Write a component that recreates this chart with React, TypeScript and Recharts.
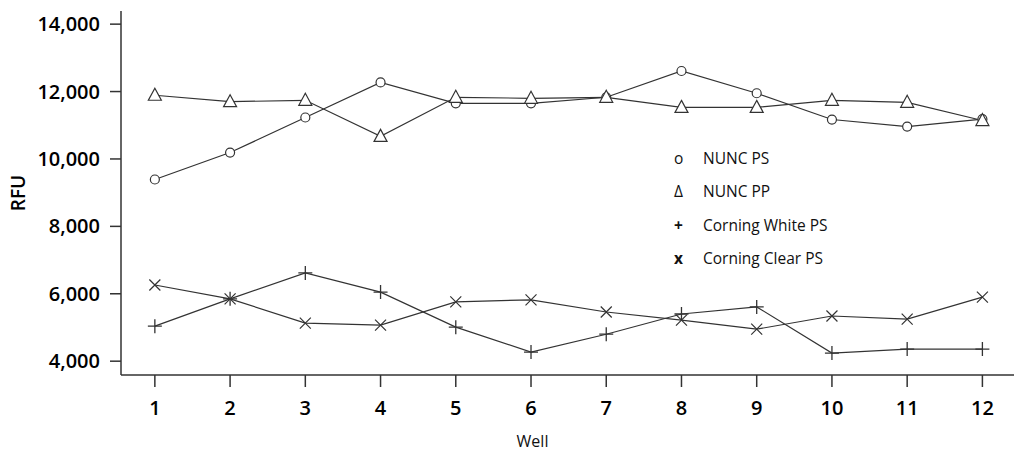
import React from 'react';
import { LineChart, Line, XAxis, YAxis, Legend } from 'recharts';

const wells = [1, 2, 3, 4, 5, 6, 7, 8, 9, 10, 11, 12];
const nuncPS = [9390, 10190, 11230, 12270, 11650, 11650, 11830, 12610, 11950, 11170, 10960, 11180];
const nuncPP = [11890, 11700, 11740, 10670, 11830, 11800, 11830, 11530, 11530, 11740, 11680, 11140];
const corningWhitePS = [5040, 5850, 6620, 6050, 5010, 4270, 4800, 5400, 5610, 4240, 4360, 4360];
const corningClearPS = [6260, 5850, 5130, 5070, 5760, 5820, 5460, 5220, 4950, 5340, 5250, 5900];
const yTicks = [4000, 6000, 8000, 10000, 12000, 14000];

const chartData = wells.map((well, i) => ({
  well,
  nuncPS: nuncPS[i],
  nuncPP: nuncPP[i],
  corningWhitePS: corningWhitePS[i],
  corningClearPS: corningClearPS[i],
}));

const INK = '#333';
const FONT = '"Open Sans", Lato, sans-serif';

const CircleDot = (props: any) => {
  const { cx, cy } = props;
  if (cx == null || cy == null) return null;
  return <circle cx={cx} cy={cy} r={4.5} fill="#fff" stroke={INK} strokeWidth={1.2} />;
};

const TriangleDot = (props: any) => {
  const { cx, cy } = props;
  if (cx == null || cy == null) return null;
  const d = `M${cx},${cy - 7} L${cx + 6.5},${cy + 5} L${cx - 6.5},${cy + 5} Z`;
  return <path d={d} fill="#fff" stroke={INK} strokeWidth={1.2} />;
};

const PlusDot = (props: any) => {
  const { cx, cy } = props;
  if (cx == null || cy == null) return null;
  const d = `M${cx - 7},${cy} L${cx + 7},${cy} M${cx},${cy - 7} L${cx},${cy + 7}`;
  return <path d={d} fill="none" stroke={INK} strokeWidth={1.3} />;
};

const CrossDot = (props: any) => {
  const { cx, cy } = props;
  if (cx == null || cy == null) return null;
  const d = `M${cx - 5.5},${cy - 5.5} L${cx + 5.5},${cy + 5.5} M${cx + 5.5},${cy - 5.5} L${cx - 5.5},${cy + 5.5}`;
  return <path d={d} fill="none" stroke={INK} strokeWidth={1.2} />;
};

const legendItems = [
  { symbol: 'o', label: 'NUNC PS', weight: 400 },
  { symbol: 'Δ', label: 'NUNC PP', weight: 400 },
  { symbol: '+', label: 'Corning White PS', weight: 700 },
  { symbol: 'x', label: 'Corning Clear PS', weight: 700 },
];

const renderLegend = () => (
  <div style={{ fontFamily: FONT, fontSize: 15.5, fontWeight: 500, color: '#111' }}>
    {legendItems.map((item) => (
      <div key={item.label} style={{ height: 33.5, display: 'flex', alignItems: 'center' }}>
        <span style={{ width: 29, textAlign: 'left', fontWeight: item.weight, paddingLeft: 6 }}>{item.symbol}</span>
        <span>{item.label}</span>
      </div>
    ))}
  </div>
);

const App = () => {
  return (
    <div style={{ position: 'absolute', left: 0, top: 0, background: '#fff' }}>
      <LineChart width={1024} height={464} data={chartData} margin={{ top: 11, right: 10, bottom: 0, left: 0 }}>
        <XAxis
          dataKey="well"
          type="number"
          domain={[0.55, 12.42]}
          ticks={wells}
          allowDataOverflow
          height={89}
          tickSize={12}
          tickMargin={14}
          stroke={INK}
          strokeWidth={1.5}
          tick={{ fill: '#000', fontSize: 20, fontWeight: 600, fontFamily: FONT }}
          label={{ value: 'Well', position: 'insideBottom', offset: 17, dx: -35, fill: '#111', fontSize: 16, fontWeight: 500, fontFamily: FONT }}
        />
        <XAxis xAxisId="top" orientation="top" dataKey="well" type="number" domain={[0.55, 12.42]} tick={false} tickLine={false} height={0} stroke={INK} strokeWidth={1.5} />
        <YAxis
          domain={[3590, 14390]}
          ticks={yTicks}
          allowDataOverflow
          width={121}
          tickSize={11}
          tickMargin={10}
          stroke={INK}
          strokeWidth={1.5}
          tickFormatter={(v: number) => v.toLocaleString('en-US')}
          tick={{ fill: '#000', fontSize: 20, fontWeight: 600, fontFamily: FONT }}
          label={{ value: 'RFU', angle: -90, position: 'insideLeft', offset: 18, fill: '#000', fontSize: 19, fontWeight: 600, fontFamily: FONT, style: { textAnchor: 'middle' } }}
        />
        <YAxis yAxisId="right" orientation="right" domain={[3590, 14390]} tick={false} tickLine={false} width={0} stroke={INK} strokeWidth={1.5} />
        <Legend
          layout="vertical"
          align="center"
          verticalAlign="middle"
          content={renderLegend}
          wrapperStyle={{ position: 'absolute', left: 668, top: 141, width: 220 }}
        />
        <Line dataKey="nuncPS" name="NUNC PS" stroke={INK} strokeWidth={1.2} dot={<CircleDot />} activeDot={false} isAnimationActive={false} />
        <Line dataKey="nuncPP" name="NUNC PP" stroke={INK} strokeWidth={1.2} dot={<TriangleDot />} activeDot={false} isAnimationActive={false} />
        <Line dataKey="corningWhitePS" name="Corning White PS" stroke={INK} strokeWidth={1.2} dot={<PlusDot />} activeDot={false} isAnimationActive={false} />
        <Line dataKey="corningClearPS" name="Corning Clear PS" stroke={INK} strokeWidth={1.2} dot={<CrossDot />} activeDot={false} isAnimationActive={false} />
      </LineChart>
    </div>
  );
};

export default App;
